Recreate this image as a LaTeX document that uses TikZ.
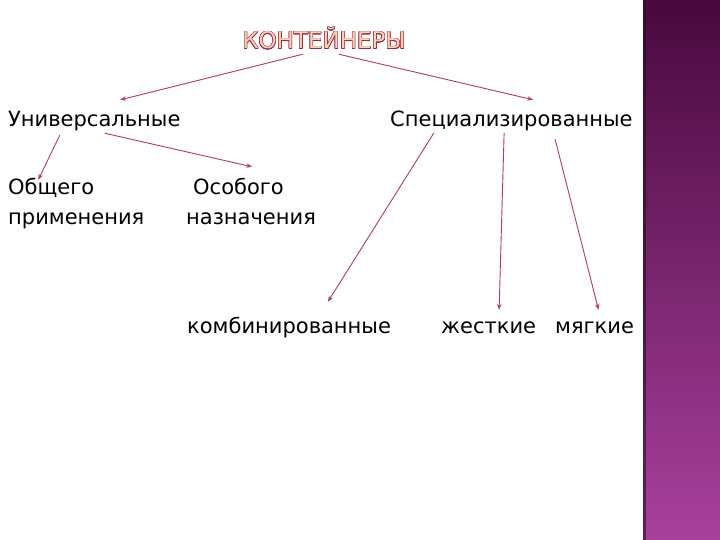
\documentclass[tikz,border=0pt]{standalone}
\usepackage{fontspec}
\setmainfont{DejaVu Sans}
\usepackage{contour}
\contourlength{0.5pt}
\usetikzlibrary{arrows.meta}
\usetikzlibrary{calc}

\definecolor{arrowred}{HTML}{B03A5E}
\definecolor{titlefill}{HTML}{F8D2B8}
\definecolor{titleline}{HTML}{9A2A40}
\definecolor{bartop}{HTML}{48093E}
\definecolor{barbot}{HTML}{A8409C}

\begin{document}
\begin{tikzpicture}[x=1pt, y=-1pt,
    every node/.style={inner sep=0pt, font=\fontsize{21}{25}\selectfont, text height=15pt, text depth=5pt},
    link/.style={draw=arrowred, line width=0.9pt, -{Stealth[length=6pt,width=4.5pt]}}]

    \useasboundingbox (0,0) rectangle (720,540);

    % side bar
    \shade[top color=bartop, bottom color=barbot] (643,0) rectangle (720,540);
    \fill[bartop!70!black, opacity=0.6] (643,0) rectangle (646,540);

    \node (title) [anchor=base, text=titlefill, font=\fontsize{23}{27}\selectfont, text height=16pt, text depth=2pt] at (324,49) {\contour{titleline}{КОНТЕЙНЕРЫ}};

    \node (univ) [anchor=base west] at (8,127) {Универсальные};
    \node (spec) [anchor=base west] at (390,127) {Специализированные};

    \node (obsh) [anchor=base west] at (8,195) {Общего};
    \node (prim) [anchor=base west] at (8,225) {применения};
    \node (osob) [anchor=base west] at (193,195) {Особого};
    \node (nazn) [anchor=base west] at (186,225) {назначения};

    \node (komb) [anchor=base west] at (187,333) {комбинированные};
    \node (zhest) [anchor=base west] at (441,333) {жесткие};
    \node (myag) [anchor=base west] at (555,333) {мягкие};

    \draw[link] ($(title.south west)!.37!(title.south east)+(0,3)$) -- ($(univ.north west)!.65!(univ.north east)+(0,-12)$);
    \draw[link] ($(title.south west)!.59!(title.south east)+(0,3)$) -- ($(spec.north west)!.59!(spec.north east)+(0,-12)$);
    \draw[link] ($(univ.south west)!.30!(univ.south east)+(0,3)$) -- ($(obsh.north west)!.35!(obsh.north east)$);
    \draw[link] ($(univ.south west)!.56!(univ.south east)+(0,1)$) -- ($(osob.north west)!.65!(osob.north east)+(0,-13)$);
    \draw[link] ($(spec.south west)!.18!(spec.south east)+(0,1)$) -- ($(komb.north west)!.69!(komb.north east)+(0,-16)$);
    \draw[link] ($(spec.south west)!.47!(spec.south east)+(0,1)$) -- ($(zhest.north west)!.61!(zhest.north east)+(0,-8)$);
    \draw[link] ($(spec.south west)!.68!(spec.south east)+(0,7)$) -- ($(myag.north west)!.55!(myag.north east)+(0,-8)$);

\end{tikzpicture}
\end{document}
